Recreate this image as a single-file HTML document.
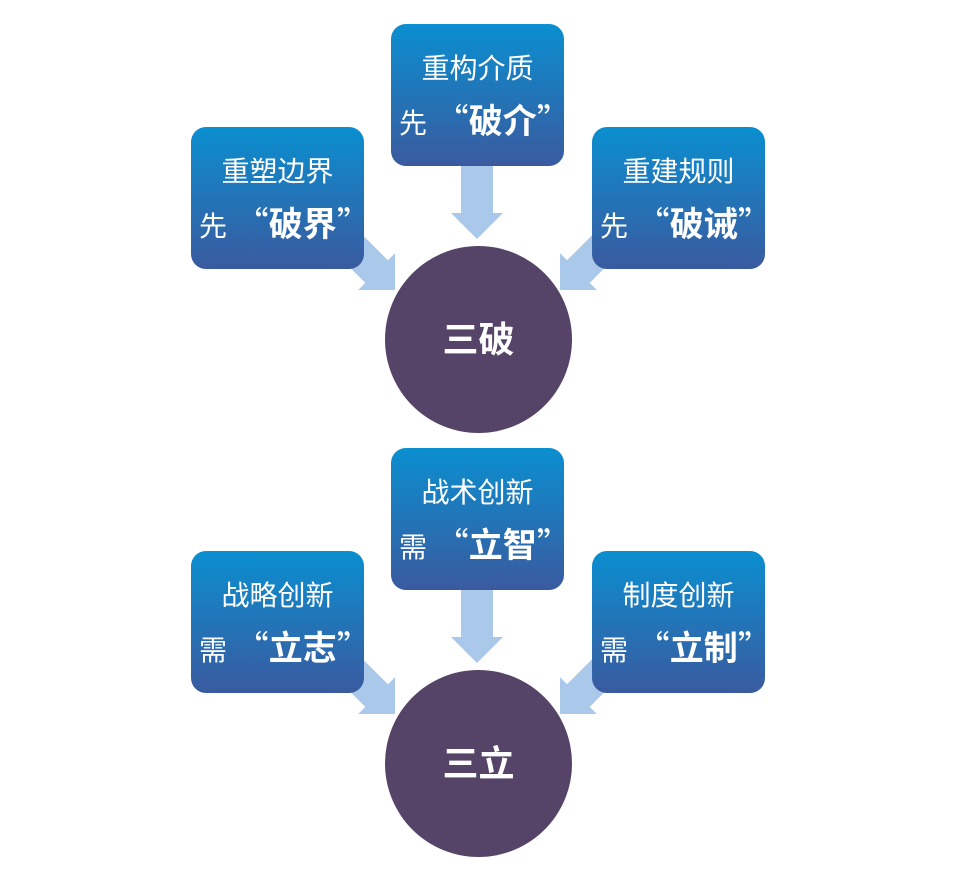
<!DOCTYPE html>
<html><head><meta charset="utf-8"><style>
body{margin:0;background:#fff;width:960px;height:882px;position:relative;overflow:hidden;font-family:"Liberation Sans","Noto Sans CJK SC",sans-serif}
.b{position:absolute;width:173px;height:142px;border-radius:15px;background:linear-gradient(#0a8fd0,#3a5a9f);color:#fff}
.l1{position:absolute;left:0;width:100%;top:28px;text-align:center;font-size:28px;line-height:34px}
.l2{position:absolute;left:8px;top:75px;font-size:28px;line-height:40px;white-space:nowrap}
.l2 b{font-size:34px;font-weight:bold}
.q{font-family:"Noto Sans CJK SC",sans-serif;font-size:34px;font-weight:normal}
.c{position:absolute;width:187px;height:187px;border-radius:50%;background:#554468;color:#fff;font-weight:bold;font-size:36px;line-height:187px;text-align:center}
svg{position:absolute;left:0;top:0}
</style></head><body>
<svg width="960" height="882">
<defs><polygon id="a" points="0,0 -26,-26 -26,-16 -80,-16 -80,16 -26,16 -26,26" fill="#a9c8ea"/></defs>
<g>
<use href="#a" transform="translate(477,239) rotate(90)"/>
<use href="#a" transform="translate(395,290) rotate(45)"/>
<use href="#a" transform="translate(560,290) rotate(135)"/>
</g>
<g transform="translate(0,424)">
<use href="#a" transform="translate(477,239) rotate(90)"/>
<use href="#a" transform="translate(395,290) rotate(45)"/>
<use href="#a" transform="translate(560,290) rotate(135)"/>
</g>
</svg>
<div class="b" style="left:391px;top:24px"><div class="l1">重构介质</div><div class="l2">先 <span class="q">“</span><b>破介</b><span class="q">”</span></div></div>
<div class="b" style="left:191px;top:127px"><div class="l1">重塑边界</div><div class="l2">先 <span class="q">“</span><b>破界</b><span class="q">”</span></div></div>
<div class="b" style="left:592px;top:127px"><div class="l1">重建规则</div><div class="l2">先 <span class="q">“</span><b>破诫</b><span class="q">”</span></div></div>
<div class="c" style="left:385px;top:246px">三破</div>
<div class="b" style="left:391px;top:448px"><div class="l1">战术创新</div><div class="l2">需 <span class="q">“</span><b>立智</b><span class="q">”</span></div></div>
<div class="b" style="left:191px;top:551px"><div class="l1">战略创新</div><div class="l2">需 <span class="q">“</span><b>立志</b><span class="q">”</span></div></div>
<div class="b" style="left:592px;top:551px"><div class="l1">制度创新</div><div class="l2">需 <span class="q">“</span><b>立制</b><span class="q">”</span></div></div>
<div class="c" style="left:385px;top:670px">三立</div>
</body></html>
